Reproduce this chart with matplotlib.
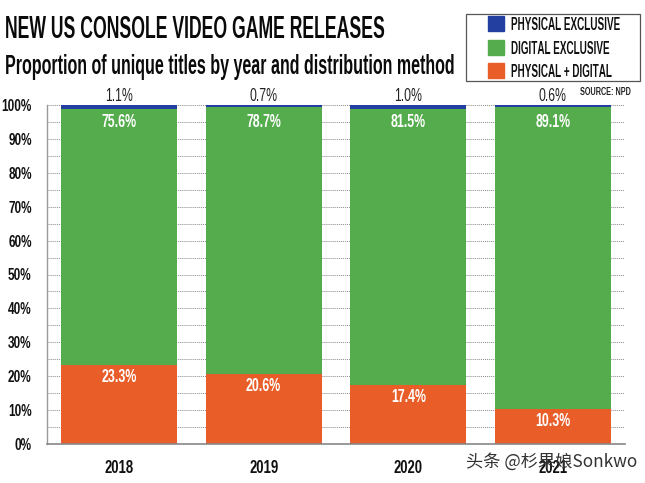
import os
import tempfile

import matplotlib

matplotlib.use("Agg")
import matplotlib.pyplot as plt
from fontTools.ttLib import TTFont
from matplotlib import font_manager
from matplotlib.font_manager import FontProperties
from matplotlib.patches import Patch, Rectangle

YEARS = ["2018", "2019", "2020", "2021"]
PHYSICAL_DIGITAL = [23.3, 20.6, 17.4, 10.3]
DIGITAL_EXCLUSIVE = [75.6, 78.7, 81.5, 89.1]
PHYSICAL_EXCLUSIVE = [1.1, 0.7, 1.0, 0.6]
Y_TICKS = [0, 10, 20, 30, 40, 50, 60, 70, 80, 90, 100]
MINOR_TICKS = [5, 15, 25, 35, 45, 55, 65, 75, 85, 95]
LEGEND_LABELS = ["PHYSICAL EXCLUSIVE", "DIGITAL EXCLUSIVE", "PHYSICAL + DIGITAL"]

ORANGE = "#e85d28"
GREEN = "#55ac4c"
BLUE = "#2340a0"
WIDTH, HEIGHT = 645, 483

font_dir = tempfile.mkdtemp()


# No condensed font is installed, so write a narrowed copy of Liberation Sans
def condensed_font(factor, size, weight="bold"):
    source = font_manager.findfont(FontProperties(family="Liberation Sans", weight=weight))
    font = TTFont(source)
    for tag in ("kern", "GPOS", "GSUB", "fpgm", "prep", "cvt ", "hdmx", "VDMX", "LTSH", "DSIG"):
        if tag in font:
            del font[tag]
    glyf = font["glyf"]
    hmtx = font["hmtx"]
    for name in glyf.keys():
        glyph = glyf[name]
        if glyph.isComposite():
            for component in glyph.components:
                component.x = round(component.x * factor)
        elif glyph.numberOfContours > 0:
            glyph.coordinates.scale((factor, 1))
            glyph.coordinates.toInt()
            glyph.removeHinting()
        advance, bearing = hmtx.metrics[name]
        hmtx.metrics[name] = (round(advance * factor), round(bearing * factor))
    path = os.path.join(font_dir, f"narrow_{weight}_{factor}.ttf")
    font.save(path)
    return FontProperties(fname=path, size=size)


fig = plt.figure(figsize=(WIDTH / 100, HEIGHT / 100), dpi=100)
ax = fig.add_axes([47 / WIDTH, 1 - 444 / HEIGHT, 578 / WIDTH, 339 / HEIGHT])

x = list(range(len(YEARS)))
bottom_green = PHYSICAL_DIGITAL
bottom_blue = [a + b for a, b in zip(PHYSICAL_DIGITAL, DIGITAL_EXCLUSIVE)]
ax.bar(x, PHYSICAL_DIGITAL, width=0.8, color=ORANGE, zorder=3)
ax.bar(x, DIGITAL_EXCLUSIVE, width=0.8, bottom=bottom_green, color=GREEN, zorder=3)
ax.bar(x, PHYSICAL_EXCLUSIVE, width=0.8, bottom=bottom_blue, color=BLUE, zorder=3)

ax.set_xlim(-0.5, 3.5)
ax.set_ylim(0, 100)
ax.set_yticks(Y_TICKS)
ax.set_yticklabels([f"{t}%" for t in Y_TICKS], fontproperties=condensed_font(0.68, 12.5), color="#111111")
ax.set_yticks(MINOR_TICKS, minor=True)
ax.set_xticks(x)
ax.set_xticklabels(YEARS, fontproperties=condensed_font(0.67, 14), color="#111111")
ax.tick_params(axis="both", which="both", length=0)
ax.tick_params(axis="x", pad=11.5)
ax.tick_params(axis="y", pad=11)
ax.grid(axis="y", which="both", color="#888888", linestyle=(0, (1, 1)), linewidth=0.7, zorder=1)
ax.set_axisbelow(True)
ax.spines["top"].set_visible(False)
ax.spines["right"].set_visible(False)
ax.spines["left"].set_color("#999999")
ax.spines["bottom"].set_color("#888888")
ax.spines["left"].set_linewidth(1.0)
ax.spines["bottom"].set_linewidth(1.2)
ax.spines["left"].set_zorder(4)
ax.spines["bottom"].set_zorder(4)

# Percent labels
bar_font = condensed_font(0.66, 13.5)
top_font = condensed_font(0.68, 13, weight="normal")
for i in x:
    ax.text(i, PHYSICAL_DIGITAL[i] - 3.6, f"{PHYSICAL_DIGITAL[i]}%", color="white", fontproperties=bar_font,
            ha="center", va="center", zorder=5)
    ax.text(i, 94.8, f"{DIGITAL_EXCLUSIVE[i]}%", color="white", fontproperties=bar_font,
            ha="center", va="center", zorder=5)
    ax.text(i, 102.4, f"{PHYSICAL_EXCLUSIVE[i]}%", color="#222222", fontproperties=top_font,
            ha="center", va="center", zorder=5)

fig.text(580 / WIDTH, 1 - 92 / HEIGHT, "SOURCE: NPD", fontproperties=condensed_font(0.7, 7.5), color="#222222",
         va="center")

# Titles
fig.text(5 / WIDTH, 1 - 30 / HEIGHT, "NEW US CONSOLE VIDEO GAME RELEASES", fontproperties=condensed_font(0.55, 23),
         color="#0a0a0a", va="center", ha="left")
fig.text(5 / WIDTH, 1 - 67 / HEIGHT, "Proportion of unique titles by year and distribution method",
         fontproperties=condensed_font(0.59, 19.5), color="#0a0a0a", va="center", ha="left")

# Legend box
fig.add_artist(Rectangle((466 / WIDTH, 1 - 81 / HEIGHT), 174 / WIDTH, 67 / HEIGHT, transform=fig.transFigure,
                         facecolor="white", edgecolor="#555555", linewidth=0.9))
handles = [Patch(color=BLUE), Patch(color=GREEN), Patch(color=ORANGE)]
fig.legend(handles, LEGEND_LABELS, loc="upper left", bbox_to_anchor=(488 / WIDTH, 1 - 16 / HEIGHT), frameon=False,
           prop=condensed_font(0.53, 13.5), handlelength=0.85, handleheight=0.85, handletextpad=0.4,
           labelspacing=0.3, borderpad=0, borderaxespad=0, labelcolor="#111111")

# Watermark
fig.text(466 / WIDTH, 1 - 462 / HEIGHT, "头条 @杉果娘Sonkwo", fontsize=12.4, color="#333333", va="center",
         family=["Noto Sans CJK SC", "DejaVu Sans"], zorder=10)

fig.savefig("out.png", dpi=100)
